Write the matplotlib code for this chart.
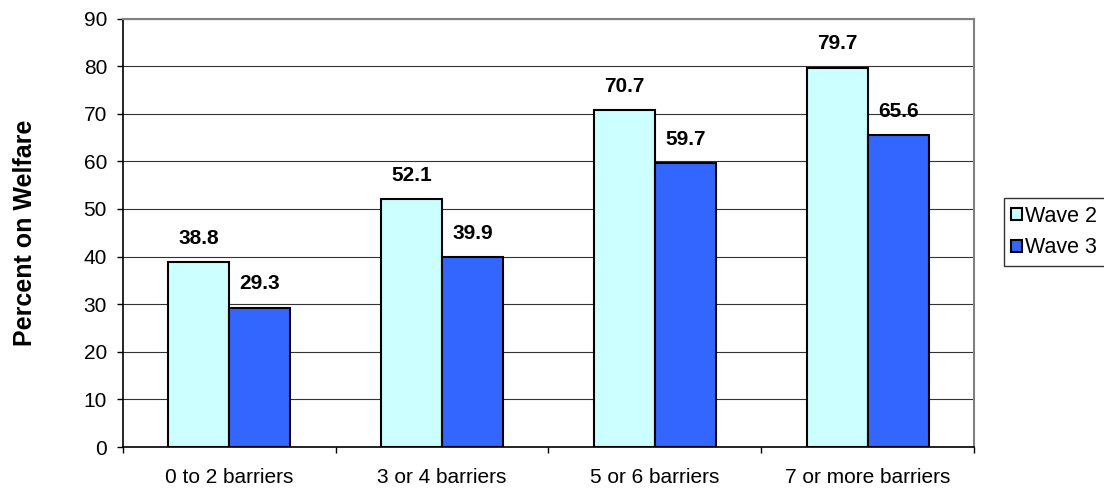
import matplotlib.pyplot as plt
import numpy as np

categories = ['0 to 2 barriers', '3 or 4 barriers', '5 or 6 barriers', '7 or more barriers']
wave2 = [38.8, 52.1, 70.7, 79.7]
wave3 = [29.3, 39.9, 59.7, 65.6]

plt.rcParams['font.family'] = ['Liberation Sans', 'DejaVu Sans']

fig = plt.figure(figsize=(11.04, 4.91), dpi=100)
ax = fig.add_axes([0.1114, 0.0896, 0.7708, 0.8727])

x = np.arange(len(categories))
w = 0.287
b2 = ax.bar(x - w/2, wave2, w, color='#CCFFFF', edgecolor='black', linewidth=1.5, label='Wave 2', zorder=3)
b3 = ax.bar(x + w/2, wave3, w, color='#3366FF', edgecolor='black', linewidth=1.5, label='Wave 3', zorder=3)

# value labels above bars
for bars, vals in ((b2, wave2), (b3, wave3)):
    for r, v in zip(bars, vals):
        ax.annotate('%.1f' % v, (r.get_x() + r.get_width()/2, v), xytext=(0, 13),
                    textcoords='offset points', ha='center', va='baseline',
                    fontsize=15, fontweight='bold')

ax.set_xlim(-0.5, 3.5)
ax.set_ylim(0, 90)
ax.set_yticks(range(0, 91, 10))
ax.yaxis.grid(True, color='#333333', linewidth=0.8, zorder=0)
ax.set_axisbelow(True)

# ticks between categories, labels centered
ax.set_xticks(np.arange(-0.5, 4, 1))
ax.set_xticklabels([])
ax.set_xticks(x, minor=True)
ax.set_xticklabels(categories, minor=True, fontsize=15)
ax.tick_params(axis='x', which='minor', length=0, pad=15)
ax.tick_params(axis='x', which='major', length=4.5, width=1, direction='out')
ax.tick_params(axis='y', length=4.5, width=1, direction='out', labelsize=15, pad=7)

for s in ('top', 'right'):
    ax.spines[s].set_color('#808080')
    ax.spines[s].set_linewidth(1.5)
for s in ('left', 'bottom'):
    ax.spines[s].set_color('black')
    ax.spines[s].set_linewidth(1.2)

ax.set_ylabel('Percent on Welfare', fontsize=18, fontweight='bold')
ax.yaxis.set_label_coords(-0.101, 0.5)

leg = ax.legend(loc='center left', bbox_to_anchor=(1.035, 0.502), fontsize=15.5, frameon=True,
                fancybox=False, edgecolor='black', handlelength=0.5, handleheight=0.5,
                handletextpad=0.15, borderpad=0.35, labelspacing=0.5, borderaxespad=0)
leg.get_frame().set_linewidth(1)
for h in leg.legend_handles:
    h.set_linewidth(1.5)

plt.savefig('out.png', dpi=100)
